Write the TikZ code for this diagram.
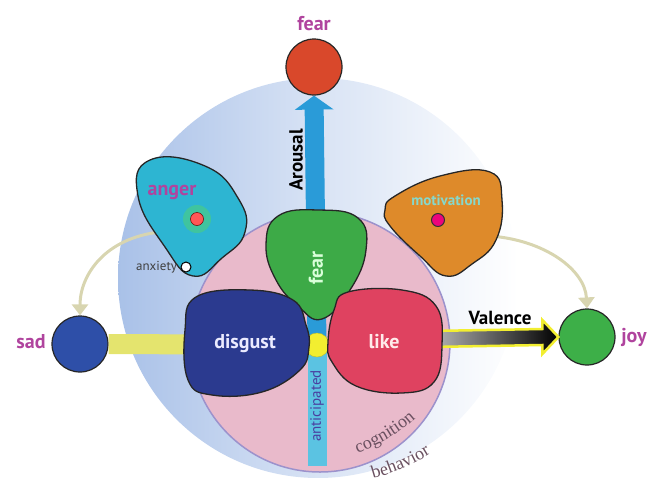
\documentclass[tikz,border=0pt]{standalone}
\usepackage{fontspec}
\setmainfont{PT Sans}
\newfontfamily\serifcog{Liberation Serif}
\usetikzlibrary{decorations.text,arrows.meta,calc}
\definecolor{bigblue}{HTML}{A9C1E8}
\definecolor{pinkc}{HTML}{E9BACB}
\definecolor{pinkedge}{HTML}{9C92CC}
\definecolor{mag}{HTML}{B0449E}
\definecolor{fearred}{HTML}{D9482B}
\definecolor{sadblue}{HTML}{2E4FA8}
\definecolor{joygreen}{HTML}{3DAF48}
\definecolor{disgustc}{HTML}{2B3A8F}
\definecolor{likec}{HTML}{DF4260}
\definecolor{feargreen}{HTML}{3DAA47}
\definecolor{angerc}{HTML}{2DB5D2}
\definecolor{motc}{HTML}{DE8A2A}
\definecolor{arousalc}{HTML}{2A9BD8}
\definecolor{anticc}{HTML}{5BC3E2}
\definecolor{yelbar}{HTML}{E4E46E}
\definecolor{yelc}{HTML}{F2EE30}
\definecolor{beigec}{HTML}{D8D5B0}
\definecolor{motxt}{HTML}{86D8CB}
\definecolor{antxt}{HTML}{4A3FA0}
\definecolor{cogtxt}{HTML}{6A5060}
\tikzset{
  blob/.style={draw=black!85, line width=1.3pt},
  emo/.style={circle, draw=black!85, line width=1.2pt, minimum size=56pt, inner sep=0pt},
  lbl/.style={font=\bfseries\fontsize{20}{24}\selectfont},
  curvearrow/.style={draw=beigec, line width=3pt, -{Triangle[width=16pt,length=11pt]}},
}
\begin{document}
\begin{tikzpicture}[x=1pt,y=-1pt]
\useasboundingbox (0,0) rectangle (656,477);
% big circle
\path[left color=bigblue, right color=white, middle color=bigblue!45] (318,278) circle[radius=200];
% pink circle
\draw[fill=pinkc, draw=pinkedge, line width=1.5pt] (320,342) circle[radius=130];
% emotion circles
\node[emo, fill=fearred] (fearc) at (314,67) {};
\node[emo, fill=sadblue] (sad) at (80,344) {};
\node[emo, fill=joygreen] (joy) at (587,337) {};
\node[lbl, text=mag] (fearlbl) at (314,24) {fear};
\node[lbl, text=mag] (sadlbl) at (31,342) {sad};
\node[lbl, text=mag] (joylbl) at (634,337) {joy};
% centre
\coordinate (ctr) at (317,345);
% arousal arrow
\draw[draw=arousalc, line width=19pt, -{Triangle[width=38pt,length=14pt]}] (ctr) -- (fearc.south);
% anticipated bar
\coordinate (antend) at (317,466);
\draw[draw=anticc, line width=19pt] (ctr) -- (antend);
% yellow bar
\draw[draw=yelbar, line width=20pt] (sad.east) -- (ctr);
\node[circle, fill=yelc, draw=yelc!80!black, line width=0.4pt, minimum size=24pt] (ctrdot) at (ctr) {};
% valence arrow
\coordinate (likeE) at (430,339);
\path[left color=gray!55, right color=black, draw=yelc, line width=2.5pt]
  ($(likeE)+(0,-8)$) -- ($(joy.west)+(-16,-8)$) -- ($(joy.west)+(-16,-17)$) -- (joy.west)
  -- ($(joy.west)+(-16,17)$) -- ($(joy.west)+(-16,8)$) -- ($(likeE)+(0,8)$) -- cycle;
\node[font=\bfseries\fontsize{19}{22}\selectfont] (valence) at (500,318) {Valence};
% curved arrows
\coordinate (angerS) at (160,232);
\coordinate (motE) at (490,236);
\draw[curvearrow] (angerS) .. controls (105,238) and (80,275) .. (sad.north);
\draw[curvearrow] (motE) .. controls (545,240) and (585,270) .. (joy.north);
% blobs
\draw[blob, fill=angerc] plot[smooth cycle, tension=0.8] coordinates
  {(150,160) (205,166) (238,198) (245,232) (222,258) (193,276) (165,247) (138,196)};
\draw[blob, fill=motc] plot[smooth cycle, tension=0.75] coordinates
  {(395,196) (440,176) (490,172) (502,200) (496,240) (472,264) (446,276) (420,256) (390,226) (385,210)};
\draw[blob, fill=feargreen] plot[smooth cycle, tension=0.75] coordinates
  {(278,216) (318,210) (358,218) (366,250) (350,290) (322,319) (298,306) (276,280) (266,245)};
\draw[blob, fill=disgustc] plot[smooth cycle, tension=0.7] coordinates
  {(196,297) (250,290) (293,300) (306,325) (309,347) (300,370) (262,392) (212,395) (188,380) (185,330)};
\draw[blob, fill=likec] plot[smooth cycle, tension=0.7] coordinates
  {(348,292) (402,290) (436,306) (442,345) (434,382) (402,393) (356,386) (332,362) (328,342) (334,310)};
% blob labels
\node[lbl, text=mag] (angerlbl) at (172,192) {anger};
\node[font=\bfseries\fontsize{15}{18}\selectfont, text=motxt] (motlbl) at (446,200) {motivation};
\node[lbl, text=green!15!white, rotate=90] (fearblob) at (316,268) {fear};
\node[lbl, text=blue!8!white] (disgustlbl) at (245,344) {disgust};
\node[lbl, text=red!8!white] (likelbl) at (384,342) {like};
\node[font=\bfseries\fontsize{19}{22}\selectfont, rotate=90] (arousal) at (296,160) {Arousal};
\node[font=\fontsize{15}{18}\selectfont, text=antxt, rotate=90] (antic) at (317,406) {anticipated};
% dots
\node[circle, fill=green!45!teal!70, opacity=0.6, minimum size=28pt, inner sep=0pt] (halo) at (197,219) {};
\node[circle, fill=red!55!pink, draw=red!40!black, line width=0.5pt, minimum size=13pt, inner sep=0pt] (angdot) at (197,219) {};
\node[circle, fill=magenta!85!red, draw=black!80, line width=1pt, minimum size=13pt, inner sep=0pt] (motdot) at (438,220) {};
\node[circle, fill=white, draw=black, line width=1pt, minimum size=10pt, inner sep=0pt] (anxdot) at (186,267) {};
\node[font=\fontsize{13}{15}\selectfont, text=black!75, anchor=east] (anxlbl) at (anxdot.west) {anxiety};
% curved texts
\path[decorate, decoration={text along path, text align=center,
  text={|\serifcog\fontsize{18}{20}\selectfont\color{cogtxt}|cognition}}]
  (344,458) .. controls (380,446) and (405,430) .. (426,408);
\path[decorate, decoration={text along path, text align=center,
  text={|\serifcog\fontsize{18}{20}\selectfont\color{cogtxt}|behavior}}]
  (360,482) .. controls (395,474) and (420,462) .. (442,446);
\end{tikzpicture}
\end{document}
